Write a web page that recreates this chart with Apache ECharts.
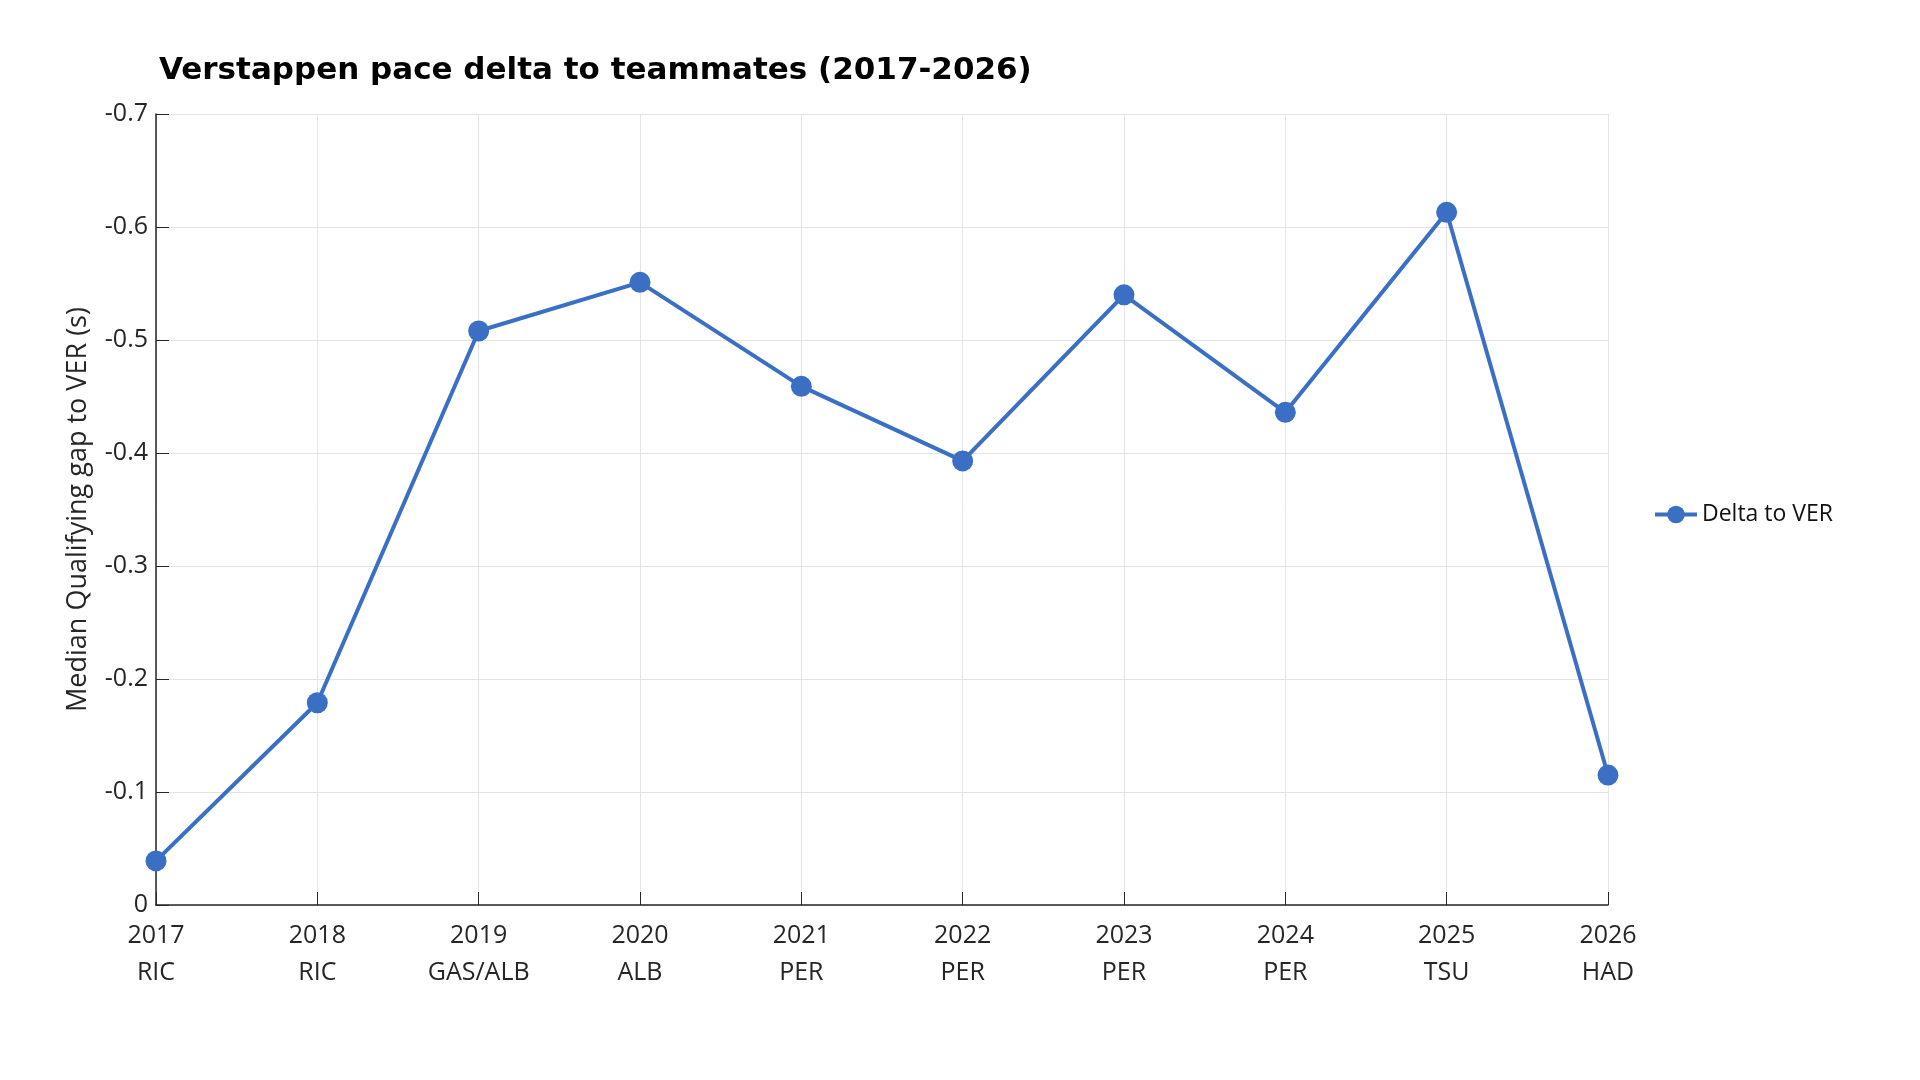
<!DOCTYPE html>
<html>
<head>
<meta charset="utf-8">
<title>Verstappen pace delta</title>
<script src="https://cdn.jsdelivr.net/npm/echarts@6/dist/echarts.min.js"></script>
<style>
  html, body { margin: 0; padding: 0; background: #fff; }
  #chart { width: 1920px; height: 1080px; }
</style>
</head>
<body>
<div id="chart"></div>
<script>
const years = ['2017', '2018', '2019', '2020', '2021', '2022', '2023', '2024', '2025', '2026'];
const teammates = ['RIC', 'RIC', 'GAS/ALB', 'ALB', 'PER', 'PER', 'PER', 'PER', 'TSU', 'HAD'];
const deltaToVer = [-0.039, -0.179, -0.508, -0.551, -0.459, -0.393, -0.540, -0.436, -0.613, -0.115];

const categories = years.map((y, i) => y + '\n' + teammates[i]);
const lineColor = '#3a6fc4';
const font = 'Open Sans';

const getOption = () => {
  return {
    backgroundColor: '#fff',
    title: {
      text: 'Verstappen pace delta to teammates (2017-2026)',
      left: 154,
      top: 50,
      textStyle: {
        fontFamily: 'DejaVu Sans',
        fontWeight: 'bold',
        fontSize: 31,
        color: '#000'
      }
    },
    legend: {
      left: 1648,
      top: 498,
      itemWidth: 42,
      itemHeight: 22,
      itemGap: 6,
      lineStyle: { width: 4 },
      textStyle: { fontFamily: font, fontSize: 23, color: '#111' },
      data: ['Delta to VER']
    },
    grid: {
      left: 156,
      right: 312,
      top: 114,
      bottom: 175,
      containLabel: false
    },
    xAxis: {
      type: 'category',
      data: categories,
      boundaryGap: false,
      axisLine: { lineStyle: { color: '#262626', width: 1.5 } },
      axisTick: { inside: true, length: 13, lineStyle: { color: '#262626' } },
      axisLabel: {
        margin: 12,
        fontFamily: font,
        fontSize: 25,
        lineHeight: 37,
        color: '#262626'
      },
      splitLine: { show: true, lineStyle: { color: '#e3e3e3', width: 1 } }
    },
    yAxis: {
      type: 'value',
      min: -0.7,
      max: 0,
      interval: 0.1,
      inverse: true,
      name: 'Median Qualifying gap to VER (s)',
      nameLocation: 'middle',
      nameGap: 64,
      nameTextStyle: { fontFamily: font, fontSize: 27, color: '#262626' },
      axisLine: { show: true, lineStyle: { color: '#262626', width: 1.5 } },
      axisTick: { show: true, inside: true, length: 13, lineStyle: { color: '#262626' } },
      axisLabel: {
        margin: 8,
        fontFamily: font,
        fontSize: 25,
        color: '#262626',
        formatter: (v) => (Math.round(v * 10) / 10).toString()
      },
      splitLine: { show: true, lineStyle: { color: '#e3e3e3', width: 1 } }
    },
    series: [
      {
        name: 'Delta to VER',
        type: 'line',
        data: deltaToVer,
        symbol: 'circle',
        symbolSize: 21,
        lineStyle: { color: lineColor, width: 4 },
        itemStyle: { color: lineColor },
        animation: false
      }
    ]
  };
};

const initCharts = () => {
  const chart = echarts.init(document.getElementById('chart'));
  chart.setOption(getOption());
};

window.addEventListener('load', () => {
  initCharts();
});
</script>
</body>
</html>
